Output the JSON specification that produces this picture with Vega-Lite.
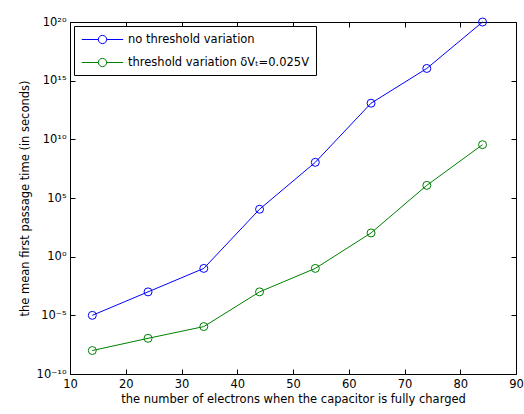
{
  "$schema": "https://vega.github.io/schema/vega-lite/v6.json",
  "autosize": "none",
  "width": 446,
  "height": 352,
  "padding": {"left": 70, "top": 22, "right": 8, "bottom": 40},
  "background": "white",
  "config": {
    "font": "DejaVu Sans",
    "view": {"stroke": "black", "strokeWidth": 1},
    "axis": {
      "grid": false,
      "domain": false,
      "tickColor": "black",
      "tickSize": -5,
      "labelColor": "black",
      "titleColor": "black",
      "labelFont": "DejaVu Sans",
      "titleFont": "DejaVu Sans",
      "labelFontSize": 11.5,
      "titleFontSize": 11.5,
      "titleFontWeight": "normal"
    }
  },
  "data": {
    "values": [
      {"n": 14, "t": 1e-5, "series": "no threshold variation"},
      {"n": 24, "t": 1e-3, "series": "no threshold variation"},
      {"n": 34, "t": 0.1, "series": "no threshold variation"},
      {"n": 44, "t": 1.1e4, "series": "no threshold variation"},
      {"n": 54, "t": 1.1e8, "series": "no threshold variation"},
      {"n": 64, "t": 1.2e13, "series": "no threshold variation"},
      {"n": 74, "t": 1.1e16, "series": "no threshold variation"},
      {"n": 84, "t": 1e20, "series": "no threshold variation"},
      {"n": 14, "t": 1e-8, "series": "threshold variation δVₜ=0.025V"},
      {"n": 24, "t": 1.1e-7, "series": "threshold variation δVₜ=0.025V"},
      {"n": 34, "t": 1.1e-6, "series": "threshold variation δVₜ=0.025V"},
      {"n": 44, "t": 1e-3, "series": "threshold variation δVₜ=0.025V"},
      {"n": 54, "t": 0.1, "series": "threshold variation δVₜ=0.025V"},
      {"n": 64, "t": 1.05e2, "series": "threshold variation δVₜ=0.025V"},
      {"n": 74, "t": 1.2e6, "series": "threshold variation δVₜ=0.025V"},
      {"n": 84, "t": 3.5e9, "series": "threshold variation δVₜ=0.025V"}
    ]
  },
  "encoding": {
    "x": {
      "field": "n",
      "type": "quantitative",
      "scale": {"domain": [10, 90], "nice": false, "zero": false},
      "axis": {"values": [10, 20, 30, 40, 50, 60, 70, 80, 90], "title": "the number of electrons when the capacitor is fully charged", "labelPadding": 9, "titlePadding": 4, "labelFlush": false}
    },
    "y": {
      "field": "t",
      "type": "quantitative",
      "scale": {"type": "log", "domain": [1e-10, 1e20], "nice": false},
      "axis": {
        "values": [1e-10, 1e-5, 1, 1e5, 1e10, 1e15, 1e20],
        "labelExpr": "round(log(datum.value)/LN10) == 20 ? '10²⁰' : round(log(datum.value)/LN10) == 15 ? '10¹⁵' : round(log(datum.value)/LN10) == 10 ? '10¹⁰' : round(log(datum.value)/LN10) == 5 ? '10⁵' : round(log(datum.value)/LN10) == 0 ? '10⁰' : round(log(datum.value)/LN10) == -5 ? '10⁻⁵' : '10⁻¹⁰'",
        "title": "the mean first passage time (in seconds)",
        "labelPadding": 9,
        "titlePadding": 6,
        "labelFlush": false
      }
    }
  },
  "layer": [
    {
      "mark": {"type": "line", "strokeWidth": 1, "point": {"filled": false, "size": 64, "strokeWidth": 1}},
      "encoding": {
        "color": {
          "field": "series",
          "type": "nominal",
          "scale": {"domain": ["no threshold variation", "threshold variation δVₜ=0.025V"], "range": ["#0000ff", "#008000"]},
          "legend": {
            "title": null,
            "orient": "none",
            "legendX": 4,
            "legendY": 4,
            "fillColor": "white",
            "strokeColor": "black",
            "padding": 6,
            "symbolType": "M-3,0L-0.6,0M0.6,0L3,0M0.6,0A0.6,0.6,0,1,1,-0.6,0A0.6,0.6,0,1,1,0.6,0",
            "symbolSize": 190,
            "symbolFillColor": "transparent",
            "symbolStrokeWidth": 1,
            "symbolOffset": 15,
            "labelOffset": 18,
            "labelFont": "DejaVu Sans",
            "labelFontSize": 11.5,
            "labelColor": "black",
            "labelLimit": 400,
            "rowPadding": 9
          }
        }
      }
    },
    {
      "mark": {"type": "point", "opacity": 0},
      "encoding": {
        "x": {"field": "n", "type": "quantitative", "axis": {"orient": "top", "values": [10, 20, 30, 40, 50, 60, 70, 80, 90], "labels": false, "title": null}},
        "y": {"field": "t", "type": "quantitative", "axis": {"orient": "right", "values": [1e-10, 1e-5, 1, 1e5, 1e10, 1e15, 1e20], "labels": false, "title": null}}
      }
    }
  ],
  "resolve": {"axis": {"x": "independent", "y": "independent"}}
}
